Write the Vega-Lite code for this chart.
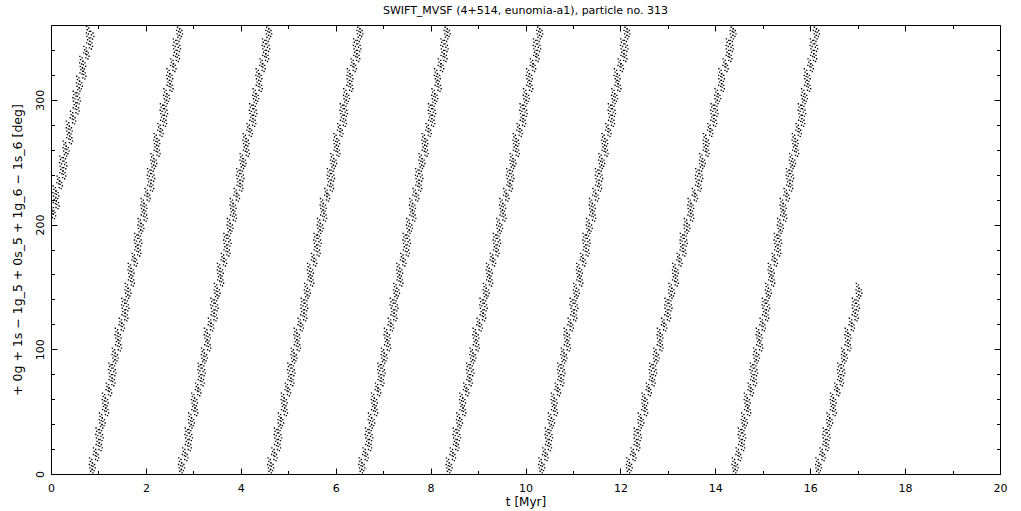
{
"$schema": "https://vega.github.io/schema/vega-lite/v6.json",
"width": 949, "height": 449,
"autosize": "none",
"padding": {"left": 51, "top": 25, "right": 21, "bottom": 37},
"background": "white",
"config": {"view": {"stroke": "black", "strokeWidth": 1}, "font": "DejaVu Sans", "axis": {"grid": false, "domain": false, "labelColor": "black", "titleColor": "black", "tickColor": "black"}},
"title": {"text": "SWIFT_MVSF (4+514, eunomia-a1), particle no. 313", "fontSize": 11, "fontWeight": "normal", "font": "DejaVu Sans", "color": "black", "anchor": "middle", "baseline": "alphabetic", "offset": 0},
"layer": [
{
"data": {"values": [
{"t":0.055,"a":208},{"t":0.020,"a":212},{"t":0.129,"a":216},{"t":0.071,"a":220},{"t":0.122,"a":224},{"t":0.064,"a":228},{"t":0.196,"a":232},{"t":0.147,"a":236},{"t":0.269,"a":240},{"t":0.211,"a":244},{"t":0.292,"a":248},{"t":0.204,"a":252},{"t":0.286,"a":256},{"t":0.338,"a":260},{"t":0.279,"a":264},{"t":0.411,"a":268},{"t":0.353,"a":272},{"t":0.404,"a":276},{"t":0.346,"a":280},{"t":0.478,"a":284},{"t":0.429,"a":288},{"t":0.551,"a":292},{"t":0.493,"a":296},{"t":0.575,"a":300},{"t":0.486,"a":304},{"t":0.568,"a":308},{"t":0.620,"a":312},{"t":0.561,"a":316},{"t":0.693,"a":320},{"t":0.635,"a":324},{"t":0.686,"a":328},{"t":0.628,"a":332},{"t":0.760,"a":336},{"t":0.712,"a":340},{"t":0.833,"a":344},{"t":0.775,"a":348},{"t":0.857,"a":352},{"t":0.768,"a":356},
{"t":0.840,"a":2},{"t":0.891,"a":6},{"t":0.832,"a":10},{"t":0.963,"a":14},{"t":0.914,"a":18},{"t":1.035,"a":22},{"t":0.976,"a":26},{"t":1.057,"a":30},{"t":0.968,"a":34},{"t":1.048,"a":38},
{"t":1.099,"a":42},{"t":1.040,"a":46},{"t":1.171,"a":50},{"t":1.112,"a":54},{"t":1.163,"a":58},{"t":1.104,"a":62},{"t":1.235,"a":66},{"t":1.186,"a":70},{"t":1.306,"a":74},{"t":1.247,"a":78},
{"t":1.328,"a":82},{"t":1.239,"a":86},{"t":1.320,"a":90},{"t":1.371,"a":94},{"t":1.312,"a":98},{"t":1.443,"a":102},{"t":1.384,"a":106},{"t":1.434,"a":110},{"t":1.375,"a":114},{"t":1.506,"a":118},
{"t":1.457,"a":122},{"t":1.578,"a":126},{"t":1.519,"a":130},{"t":1.600,"a":134},{"t":1.511,"a":138},{"t":1.592,"a":142},{"t":1.642,"a":146},{"t":1.583,"a":150},{"t":1.714,"a":154},{"t":1.655,"a":158},
{"t":1.706,"a":162},{"t":1.647,"a":166},{"t":1.778,"a":170},{"t":1.729,"a":174},{"t":1.850,"a":178},{"t":1.790,"a":182},{"t":1.871,"a":186},{"t":1.782,"a":190},{"t":1.863,"a":194},{"t":1.914,"a":198},
{"t":1.855,"a":202},{"t":1.986,"a":206},{"t":1.927,"a":210},{"t":1.978,"a":214},{"t":1.918,"a":218},{"t":2.049,"a":222},{"t":2.000,"a":226},{"t":2.121,"a":230},{"t":2.062,"a":234},{"t":2.143,"a":238},
{"t":2.054,"a":242},{"t":2.135,"a":246},{"t":2.186,"a":250},{"t":2.126,"a":254},{"t":2.257,"a":258},{"t":2.198,"a":262},{"t":2.249,"a":266},{"t":2.190,"a":270},{"t":2.321,"a":274},{"t":2.272,"a":278},
{"t":2.393,"a":282},{"t":2.334,"a":286},{"t":2.414,"a":290},{"t":2.325,"a":294},{"t":2.406,"a":298},{"t":2.457,"a":302},{"t":2.398,"a":306},{"t":2.529,"a":310},{"t":2.470,"a":314},{"t":2.521,"a":318},
{"t":2.462,"a":322},{"t":2.592,"a":326},{"t":2.543,"a":330},{"t":2.664,"a":334},{"t":2.605,"a":338},{"t":2.686,"a":342},{"t":2.597,"a":346},{"t":2.678,"a":350},{"t":2.729,"a":354},{"t":2.670,"a":358},
{"t":2.720,"a":2},{"t":2.771,"a":6},{"t":2.712,"a":10},{"t":2.843,"a":14},{"t":2.794,"a":18},{"t":2.915,"a":22},{"t":2.856,"a":26},{"t":2.937,"a":30},{"t":2.848,"a":34},{"t":2.928,"a":38},
{"t":2.979,"a":42},{"t":2.920,"a":46},{"t":3.051,"a":50},{"t":2.992,"a":54},{"t":3.043,"a":58},{"t":2.984,"a":62},{"t":3.115,"a":66},{"t":3.066,"a":70},{"t":3.186,"a":74},{"t":3.127,"a":78},
{"t":3.208,"a":82},{"t":3.119,"a":86},{"t":3.200,"a":90},{"t":3.251,"a":94},{"t":3.192,"a":98},{"t":3.323,"a":102},{"t":3.264,"a":106},{"t":3.314,"a":110},{"t":3.255,"a":114},{"t":3.386,"a":118},
{"t":3.337,"a":122},{"t":3.458,"a":126},{"t":3.399,"a":130},{"t":3.480,"a":134},{"t":3.391,"a":138},{"t":3.472,"a":142},{"t":3.522,"a":146},{"t":3.463,"a":150},{"t":3.594,"a":154},{"t":3.535,"a":158},
{"t":3.586,"a":162},{"t":3.527,"a":166},{"t":3.658,"a":170},{"t":3.609,"a":174},{"t":3.730,"a":178},{"t":3.670,"a":182},{"t":3.751,"a":186},{"t":3.662,"a":190},{"t":3.743,"a":194},{"t":3.794,"a":198},
{"t":3.735,"a":202},{"t":3.866,"a":206},{"t":3.807,"a":210},{"t":3.858,"a":214},{"t":3.798,"a":218},{"t":3.929,"a":222},{"t":3.880,"a":226},{"t":4.001,"a":230},{"t":3.942,"a":234},{"t":4.023,"a":238},
{"t":3.934,"a":242},{"t":4.015,"a":246},{"t":4.066,"a":250},{"t":4.006,"a":254},{"t":4.137,"a":258},{"t":4.078,"a":262},{"t":4.129,"a":266},{"t":4.070,"a":270},{"t":4.201,"a":274},{"t":4.152,"a":278},
{"t":4.273,"a":282},{"t":4.214,"a":286},{"t":4.294,"a":290},{"t":4.205,"a":294},{"t":4.286,"a":298},{"t":4.337,"a":302},{"t":4.278,"a":306},{"t":4.409,"a":310},{"t":4.350,"a":314},{"t":4.401,"a":318},
{"t":4.342,"a":322},{"t":4.472,"a":326},{"t":4.423,"a":330},{"t":4.544,"a":334},{"t":4.485,"a":338},{"t":4.566,"a":342},{"t":4.477,"a":346},{"t":4.558,"a":350},{"t":4.609,"a":354},{"t":4.550,"a":358},
{"t":4.600,"a":2},{"t":4.651,"a":6},{"t":4.592,"a":10},{"t":4.723,"a":14},{"t":4.674,"a":18},{"t":4.795,"a":22},{"t":4.736,"a":26},{"t":4.817,"a":30},{"t":4.728,"a":34},{"t":4.808,"a":38},
{"t":4.859,"a":42},{"t":4.810,"a":46},{"t":4.941,"a":50},{"t":4.882,"a":54},{"t":4.933,"a":58},{"t":4.874,"a":62},{"t":5.005,"a":66},{"t":4.956,"a":70},{"t":5.076,"a":74},{"t":5.017,"a":78},
{"t":5.098,"a":82},{"t":5.009,"a":86},{"t":5.090,"a":90},{"t":5.141,"a":94},{"t":5.082,"a":98},{"t":5.213,"a":102},{"t":5.154,"a":106},{"t":5.204,"a":110},{"t":5.145,"a":114},{"t":5.276,"a":118},
{"t":5.227,"a":122},{"t":5.348,"a":126},{"t":5.289,"a":130},{"t":5.370,"a":134},{"t":5.291,"a":138},{"t":5.372,"a":142},{"t":5.422,"a":146},{"t":5.363,"a":150},{"t":5.494,"a":154},{"t":5.435,"a":158},
{"t":5.486,"a":162},{"t":5.427,"a":166},{"t":5.558,"a":170},{"t":5.509,"a":174},{"t":5.630,"a":178},{"t":5.570,"a":182},{"t":5.651,"a":186},{"t":5.562,"a":190},{"t":5.643,"a":194},{"t":5.694,"a":198},
{"t":5.635,"a":202},{"t":5.766,"a":206},{"t":5.707,"a":210},{"t":5.758,"a":214},{"t":5.698,"a":218},{"t":5.829,"a":222},{"t":5.790,"a":226},{"t":5.911,"a":230},{"t":5.852,"a":234},{"t":5.933,"a":238},
{"t":5.844,"a":242},{"t":5.925,"a":246},{"t":5.976,"a":250},{"t":5.916,"a":254},{"t":6.047,"a":258},{"t":5.988,"a":262},{"t":6.039,"a":266},{"t":5.980,"a":270},{"t":6.111,"a":274},{"t":6.062,"a":278},
{"t":6.183,"a":282},{"t":6.124,"a":286},{"t":6.204,"a":290},{"t":6.115,"a":294},{"t":6.196,"a":298},{"t":6.247,"a":302},{"t":6.188,"a":306},{"t":6.319,"a":310},{"t":6.260,"a":314},{"t":6.321,"a":318},
{"t":6.262,"a":322},{"t":6.392,"a":326},{"t":6.343,"a":330},{"t":6.464,"a":334},{"t":6.405,"a":338},{"t":6.486,"a":342},{"t":6.397,"a":346},{"t":6.478,"a":350},{"t":6.529,"a":354},{"t":6.470,"a":358},
{"t":6.520,"a":2},{"t":6.571,"a":6},{"t":6.512,"a":10},{"t":6.643,"a":14},{"t":6.594,"a":18},{"t":6.715,"a":22},{"t":6.656,"a":26},{"t":6.737,"a":30},{"t":6.648,"a":34},{"t":6.728,"a":38},
{"t":6.779,"a":42},{"t":6.710,"a":46},{"t":6.841,"a":50},{"t":6.782,"a":54},{"t":6.833,"a":58},{"t":6.774,"a":62},{"t":6.905,"a":66},{"t":6.856,"a":70},{"t":6.976,"a":74},{"t":6.917,"a":78},
{"t":6.998,"a":82},{"t":6.909,"a":86},{"t":6.990,"a":90},{"t":7.041,"a":94},{"t":6.982,"a":98},{"t":7.113,"a":102},{"t":7.054,"a":106},{"t":7.104,"a":110},{"t":7.045,"a":114},{"t":7.176,"a":118},
{"t":7.127,"a":122},{"t":7.248,"a":126},{"t":7.189,"a":130},{"t":7.270,"a":134},{"t":7.171,"a":138},{"t":7.252,"a":142},{"t":7.302,"a":146},{"t":7.243,"a":150},{"t":7.374,"a":154},{"t":7.315,"a":158},
{"t":7.366,"a":162},{"t":7.307,"a":166},{"t":7.438,"a":170},{"t":7.389,"a":174},{"t":7.510,"a":178},{"t":7.450,"a":182},{"t":7.531,"a":186},{"t":7.442,"a":190},{"t":7.523,"a":194},{"t":7.574,"a":198},
{"t":7.515,"a":202},{"t":7.646,"a":206},{"t":7.587,"a":210},{"t":7.638,"a":214},{"t":7.578,"a":218},{"t":7.709,"a":222},{"t":7.650,"a":226},{"t":7.771,"a":230},{"t":7.712,"a":234},{"t":7.793,"a":238},
{"t":7.704,"a":242},{"t":7.785,"a":246},{"t":7.836,"a":250},{"t":7.776,"a":254},{"t":7.907,"a":258},{"t":7.848,"a":262},{"t":7.899,"a":266},{"t":7.840,"a":270},{"t":7.971,"a":274},{"t":7.922,"a":278},
{"t":8.043,"a":282},{"t":7.984,"a":286},{"t":8.064,"a":290},{"t":7.975,"a":294},{"t":8.056,"a":298},{"t":8.107,"a":302},{"t":8.048,"a":306},{"t":8.179,"a":310},{"t":8.120,"a":314},{"t":8.161,"a":318},
{"t":8.102,"a":322},{"t":8.232,"a":326},{"t":8.183,"a":330},{"t":8.304,"a":334},{"t":8.245,"a":338},{"t":8.326,"a":342},{"t":8.237,"a":346},{"t":8.318,"a":350},{"t":8.369,"a":354},{"t":8.310,"a":358},
{"t":8.360,"a":2},{"t":8.411,"a":6},{"t":8.352,"a":10},{"t":8.483,"a":14},{"t":8.434,"a":18},{"t":8.555,"a":22},{"t":8.506,"a":26},{"t":8.587,"a":30},{"t":8.498,"a":34},{"t":8.578,"a":38},
{"t":8.629,"a":42},{"t":8.570,"a":46},{"t":8.701,"a":50},{"t":8.642,"a":54},{"t":8.693,"a":58},{"t":8.634,"a":62},{"t":8.765,"a":66},{"t":8.716,"a":70},{"t":8.836,"a":74},{"t":8.787,"a":78},
{"t":8.868,"a":82},{"t":8.779,"a":86},{"t":8.860,"a":90},{"t":8.911,"a":94},{"t":8.852,"a":98},{"t":8.983,"a":102},{"t":8.924,"a":106},{"t":8.974,"a":110},{"t":8.915,"a":114},{"t":9.046,"a":118},
{"t":8.997,"a":122},{"t":9.118,"a":126},{"t":9.069,"a":130},{"t":9.150,"a":134},{"t":9.061,"a":138},{"t":9.142,"a":142},{"t":9.192,"a":146},{"t":9.133,"a":150},{"t":9.264,"a":154},{"t":9.205,"a":158},
{"t":9.256,"a":162},{"t":9.197,"a":166},{"t":9.328,"a":170},{"t":9.279,"a":174},{"t":9.400,"a":178},{"t":9.350,"a":182},{"t":9.431,"a":186},{"t":9.342,"a":190},{"t":9.423,"a":194},{"t":9.474,"a":198},
{"t":9.415,"a":202},{"t":9.546,"a":206},{"t":9.487,"a":210},{"t":9.538,"a":214},{"t":9.478,"a":218},{"t":9.609,"a":222},{"t":9.560,"a":226},{"t":9.681,"a":230},{"t":9.632,"a":234},{"t":9.713,"a":238},
{"t":9.624,"a":242},{"t":9.705,"a":246},{"t":9.756,"a":250},{"t":9.696,"a":254},{"t":9.827,"a":258},{"t":9.768,"a":262},{"t":9.819,"a":266},{"t":9.760,"a":270},{"t":9.891,"a":274},{"t":9.842,"a":278},
{"t":9.963,"a":282},{"t":9.914,"a":286},{"t":9.994,"a":290},{"t":9.905,"a":294},{"t":9.986,"a":298},{"t":10.037,"a":302},{"t":9.978,"a":306},{"t":10.109,"a":310},{"t":10.050,"a":314},{"t":10.101,"a":318},
{"t":10.042,"a":322},{"t":10.172,"a":326},{"t":10.123,"a":330},{"t":10.244,"a":334},{"t":10.195,"a":338},{"t":10.276,"a":342},{"t":10.187,"a":346},{"t":10.268,"a":350},{"t":10.319,"a":354},{"t":10.260,"a":358},
{"t":10.310,"a":2},{"t":10.361,"a":6},{"t":10.302,"a":10},{"t":10.433,"a":14},{"t":10.384,"a":18},{"t":10.505,"a":22},{"t":10.446,"a":26},{"t":10.527,"a":30},{"t":10.438,"a":34},{"t":10.518,"a":38},
{"t":10.569,"a":42},{"t":10.500,"a":46},{"t":10.631,"a":50},{"t":10.572,"a":54},{"t":10.623,"a":58},{"t":10.564,"a":62},{"t":10.695,"a":66},{"t":10.646,"a":70},{"t":10.766,"a":74},{"t":10.707,"a":78},
{"t":10.788,"a":82},{"t":10.699,"a":86},{"t":10.780,"a":90},{"t":10.831,"a":94},{"t":10.772,"a":98},{"t":10.903,"a":102},{"t":10.844,"a":106},{"t":10.894,"a":110},{"t":10.835,"a":114},{"t":10.966,"a":118},
{"t":10.917,"a":122},{"t":11.038,"a":126},{"t":10.979,"a":130},{"t":11.060,"a":134},{"t":10.961,"a":138},{"t":11.042,"a":142},{"t":11.092,"a":146},{"t":11.033,"a":150},{"t":11.164,"a":154},{"t":11.105,"a":158},
{"t":11.156,"a":162},{"t":11.097,"a":166},{"t":11.228,"a":170},{"t":11.179,"a":174},{"t":11.300,"a":178},{"t":11.240,"a":182},{"t":11.321,"a":186},{"t":11.232,"a":190},{"t":11.313,"a":194},{"t":11.364,"a":198},
{"t":11.305,"a":202},{"t":11.436,"a":206},{"t":11.377,"a":210},{"t":11.428,"a":214},{"t":11.368,"a":218},{"t":11.499,"a":222},{"t":11.440,"a":226},{"t":11.561,"a":230},{"t":11.502,"a":234},{"t":11.583,"a":238},
{"t":11.494,"a":242},{"t":11.575,"a":246},{"t":11.626,"a":250},{"t":11.566,"a":254},{"t":11.697,"a":258},{"t":11.638,"a":262},{"t":11.689,"a":266},{"t":11.630,"a":270},{"t":11.761,"a":274},{"t":11.712,"a":278},
{"t":11.833,"a":282},{"t":11.774,"a":286},{"t":11.854,"a":290},{"t":11.765,"a":294},{"t":11.846,"a":298},{"t":11.897,"a":302},{"t":11.838,"a":306},{"t":11.969,"a":310},{"t":11.910,"a":314},{"t":11.951,"a":318},
{"t":11.892,"a":322},{"t":12.022,"a":326},{"t":11.973,"a":330},{"t":12.094,"a":334},{"t":12.035,"a":338},{"t":12.116,"a":342},{"t":12.027,"a":346},{"t":12.108,"a":350},{"t":12.159,"a":354},{"t":12.100,"a":358},
{"t":12.152,"a":2},{"t":12.207,"a":6},{"t":12.152,"a":10},{"t":12.287,"a":14},{"t":12.242,"a":18},{"t":12.367,"a":22},{"t":12.312,"a":26},{"t":12.397,"a":30},{"t":12.312,"a":34},{"t":12.396,"a":38},
{"t":12.451,"a":42},{"t":12.396,"a":46},{"t":12.531,"a":50},{"t":12.476,"a":54},{"t":12.531,"a":58},{"t":12.476,"a":62},{"t":12.611,"a":66},{"t":12.566,"a":70},{"t":12.690,"a":74},{"t":12.635,"a":78},
{"t":12.720,"a":82},{"t":12.635,"a":86},{"t":12.720,"a":90},{"t":12.775,"a":94},{"t":12.720,"a":98},{"t":12.855,"a":102},{"t":12.800,"a":106},{"t":12.854,"a":110},{"t":12.799,"a":114},{"t":12.934,"a":118},
{"t":12.889,"a":122},{"t":13.014,"a":126},{"t":12.959,"a":130},{"t":13.044,"a":134},{"t":12.959,"a":138},{"t":13.044,"a":142},{"t":13.098,"a":146},{"t":13.043,"a":150},{"t":13.178,"a":154},{"t":13.123,"a":158},
{"t":13.178,"a":162},{"t":13.123,"a":166},{"t":13.258,"a":170},{"t":13.213,"a":174},{"t":13.338,"a":178},{"t":13.282,"a":182},{"t":13.367,"a":186},{"t":13.282,"a":190},{"t":13.367,"a":194},{"t":13.422,"a":198},
{"t":13.367,"a":202},{"t":13.502,"a":206},{"t":13.447,"a":210},{"t":13.502,"a":214},{"t":13.446,"a":218},{"t":13.581,"a":222},{"t":13.536,"a":226},{"t":13.661,"a":230},{"t":13.606,"a":234},{"t":13.691,"a":238},
{"t":13.606,"a":242},{"t":13.691,"a":246},{"t":13.746,"a":250},{"t":13.690,"a":254},{"t":13.825,"a":258},{"t":13.770,"a":262},{"t":13.825,"a":266},{"t":13.770,"a":270},{"t":13.905,"a":274},{"t":13.860,"a":278},
{"t":13.985,"a":282},{"t":13.930,"a":286},{"t":14.014,"a":290},{"t":13.929,"a":294},{"t":14.014,"a":298},{"t":14.069,"a":302},{"t":14.014,"a":306},{"t":14.149,"a":310},{"t":14.094,"a":314},{"t":14.149,"a":318},
{"t":14.094,"a":322},{"t":14.228,"a":326},{"t":14.183,"a":330},{"t":14.308,"a":334},{"t":14.253,"a":338},{"t":14.338,"a":342},{"t":14.253,"a":346},{"t":14.338,"a":350},{"t":14.393,"a":354},{"t":14.338,"a":358},
{"t":14.389,"a":2},{"t":14.439,"a":6},{"t":14.378,"a":10},{"t":14.508,"a":14},{"t":14.458,"a":18},{"t":14.577,"a":22},{"t":14.517,"a":26},{"t":14.596,"a":30},{"t":14.506,"a":34},{"t":14.584,"a":38},
{"t":14.634,"a":42},{"t":14.573,"a":46},{"t":14.703,"a":50},{"t":14.643,"a":54},{"t":14.692,"a":58},{"t":14.632,"a":62},{"t":14.761,"a":66},{"t":14.711,"a":70},{"t":14.829,"a":74},{"t":14.769,"a":78},
{"t":14.848,"a":82},{"t":14.758,"a":86},{"t":14.838,"a":90},{"t":14.887,"a":94},{"t":14.827,"a":98},{"t":14.956,"a":102},{"t":14.896,"a":106},{"t":14.944,"a":110},{"t":14.884,"a":114},{"t":15.014,"a":118},
{"t":14.963,"a":122},{"t":15.083,"a":126},{"t":15.022,"a":130},{"t":15.102,"a":134},{"t":15.011,"a":138},{"t":15.091,"a":142},{"t":15.139,"a":146},{"t":15.079,"a":150},{"t":15.209,"a":154},{"t":15.148,"a":158},
{"t":15.198,"a":162},{"t":15.137,"a":166},{"t":15.267,"a":170},{"t":15.216,"a":174},{"t":15.336,"a":178},{"t":15.274,"a":182},{"t":15.354,"a":186},{"t":15.264,"a":190},{"t":15.343,"a":194},{"t":15.393,"a":198},
{"t":15.332,"a":202},{"t":15.462,"a":206},{"t":15.401,"a":210},{"t":15.451,"a":214},{"t":15.389,"a":218},{"t":15.519,"a":222},{"t":15.469,"a":226},{"t":15.588,"a":230},{"t":15.528,"a":234},{"t":15.607,"a":238},
{"t":15.517,"a":242},{"t":15.596,"a":246},{"t":15.646,"a":250},{"t":15.584,"a":254},{"t":15.714,"a":258},{"t":15.654,"a":262},{"t":15.703,"a":266},{"t":15.643,"a":270},{"t":15.772,"a":274},{"t":15.722,"a":278},
{"t":15.841,"a":282},{"t":15.781,"a":286},{"t":15.860,"a":290},{"t":15.769,"a":294},{"t":15.849,"a":298},{"t":15.898,"a":302},{"t":15.838,"a":306},{"t":15.967,"a":310},{"t":15.907,"a":314},{"t":15.956,"a":318},
{"t":15.896,"a":322},{"t":16.025,"a":326},{"t":15.974,"a":330},{"t":16.094,"a":334},{"t":16.033,"a":338},{"t":16.113,"a":342},{"t":16.022,"a":346},{"t":16.102,"a":350},{"t":16.151,"a":354},{"t":16.091,"a":358},
{"t":16.141,"a":2},{"t":16.195,"a":6},{"t":16.139,"a":10},{"t":16.273,"a":14},{"t":16.227,"a":18},{"t":16.351,"a":22},{"t":16.294,"a":26},{"t":16.378,"a":30},{"t":16.292,"a":34},{"t":16.375,"a":38},
{"t":16.429,"a":42},{"t":16.373,"a":46},{"t":16.507,"a":50},{"t":16.450,"a":54},{"t":16.504,"a":58},{"t":16.448,"a":62},{"t":16.582,"a":66},{"t":16.536,"a":70},{"t":16.659,"a":74},{"t":16.602,"a":78},
{"t":16.686,"a":82},{"t":16.600,"a":86},{"t":16.684,"a":90},{"t":16.738,"a":94},{"t":16.682,"a":98},{"t":16.816,"a":102},{"t":16.759,"a":106},{"t":16.812,"a":110},{"t":16.756,"a":114},{"t":16.890,"a":118},
{"t":16.844,"a":122},{"t":16.968,"a":126},{"t":16.911,"a":130},{"t":16.995,"a":134},{"t":16.909,"a":138},{"t":16.993,"a":142},{"t":17.046,"a":146},{"t":16.990,"a":150}
]},
"mark": {"type": "point", "shape": "M-0.35,-0.95h0.3v0.3h-0.3zM0.15,-0.6h0.3v0.3h-0.3zM-0.2,-0.2h0.3v0.3h-0.3zM0.3,0.15h0.3v0.3h-0.3zM-0.4,0.5h0.3v0.3h-0.3zM0.05,0.75h0.3v0.3h-0.3z", "size": 81, "filled": true, "color": "black", "opacity": 1, "strokeWidth": 0, "clip": true},
"encoding": {
"x": {"field": "t", "type": "quantitative", "scale": {"domain": [0, 20], "nice": false, "zero": false},
 "axis": {"orient": "bottom", "values": [0,2,4,6,8,10,12,14,16,18,20], "ticks": false, "tickSize": 0, "labelPadding": 8, "labelFontSize": 11, "labelFlush": false, "labelOverlap": false, "title": "t [Myr]", "titleFontSize": 12, "titleFontWeight": "normal", "titlePadding": 3}},
"y": {"field": "a", "type": "quantitative", "scale": {"domain": [0, 360], "nice": false, "zero": false},
 "axis": {"orient": "left", "values": [0,100,200,300], "ticks": false, "tickSize": 0, "labelAngle": -90, "labelAlign": "center", "labelBaseline": "alphabetic", "labelPadding": 8, "labelFontSize": 11, "labelFlush": false, "labelOverlap": false, "title": "+ 0g + 1s − 1g_5 + 0s_5 + 1g_6 − 1s_6 [deg]", "titleFontSize": 12.5, "titleFontWeight": "normal", "titlePadding": 10}}
}
},
{
"data": {"values": [{"t": 0, "a": 0}]},
"mark": {"type": "point", "opacity": 0},
"encoding": {
"x": {"field": "t", "type": "quantitative", "axis": {"orient": "bottom", "values": [0,2,4,6,8,10,12,14,16,18,20], "labels": false, "ticks": true, "tickSize": -6, "title": null}},
"y": {"field": "a", "type": "quantitative", "axis": {"orient": "left", "values": [0,100,200,300], "labels": false, "ticks": true, "tickSize": -6, "title": null}}
}
},
{
"data": {"values": [{"t": 0, "a": 0}]},
"mark": {"type": "point", "opacity": 0},
"encoding": {
"x": {"field": "t", "type": "quantitative", "axis": {"orient": "bottom", "values": [1,3,5,7,9,11,13,15,17,19], "labels": false, "ticks": true, "tickSize": -3.5, "title": null}},
"y": {"field": "a", "type": "quantitative", "axis": {"orient": "left", "values": [20,40,60,80,120,140,160,180,220,240,260,280,320,340], "labels": false, "ticks": true, "tickSize": -3.5, "title": null}}
}
},
{
"data": {"values": [{"t": 0, "a": 0}]},
"mark": {"type": "point", "opacity": 0},
"encoding": {
"x": {"field": "t", "type": "quantitative", "axis": {"orient": "top", "values": [0,2,4,6,8,10,12,14,16,18,20], "labels": false, "ticks": true, "tickSize": -6, "title": null}},
"y": {"field": "a", "type": "quantitative", "axis": {"orient": "right", "values": [0,100,200,300], "labels": false, "ticks": true, "tickSize": -6, "title": null}}
}
},
{
"data": {"values": [{"t": 0, "a": 0}]},
"mark": {"type": "point", "opacity": 0},
"encoding": {
"x": {"field": "t", "type": "quantitative", "axis": {"orient": "top", "values": [1,3,5,7,9,11,13,15,17,19], "labels": false, "ticks": true, "tickSize": -3.5, "title": null}},
"y": {"field": "a", "type": "quantitative", "axis": {"orient": "right", "values": [20,40,60,80,120,140,160,180,220,240,260,280,320,340], "labels": false, "ticks": true, "tickSize": -3.5, "title": null}}
}
}
],
"resolve": {"axis": {"x": "independent", "y": "independent"}}
}
